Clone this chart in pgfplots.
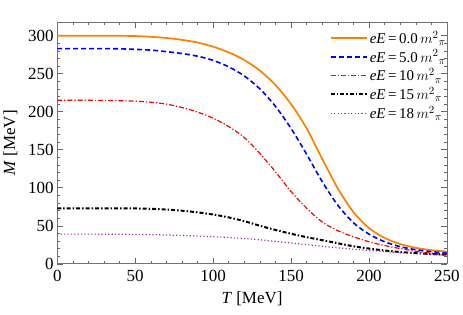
\documentclass[border=0pt]{standalone}
\usepackage{pgfplots}
\pgfplotsset{compat=1.18}
\usepackage{fontspec}
\setmainfont{Liberation Serif}
\definecolor{mOrange}{rgb}{1,0.5,0}
\definecolor{mPurple}{rgb}{0.6,0.2,0.65}
\newcommand{\lab}[1]{\textit{eE}\,=\,#1\,$m^{2}{}_{\pi}$}
\begin{document}
\begin{tikzpicture}
\begin{axis}[
  scale only axis,
  width=390pt, height=242pt,
  xmin=0, xmax=250, ymin=0, ymax=318,
  xtick={0,50,...,250}, ytick={0,50,...,300},
  minor x tick num=4, minor y tick num=4,
  major tick length=6pt, minor tick length=3pt,
  tick style={color=black!60, line width=0.5pt},
  axis line style={color=black!55, line width=0.6pt},
  tick align=inside,
  /pgf/number format/assume math mode=true,
  ticklabel style={font=\fontsize{17}{20}\selectfont},
  xticklabel style={yshift=-3pt},
  label style={font=\fontsize{17}{20}\selectfont},
  xlabel={\textit{T} [MeV]}, ylabel={\textit{M} [MeV]},
  xlabel style={yshift=-3pt},
  ylabel style={yshift=4pt},
  legend style={draw=none, fill=none, at={(1,1)}, anchor=north east,
    xshift=4pt, yshift=-5pt,
    font=\fontsize{15}{17}\selectfont, row sep=1pt,
    legend cell align=left},
  legend image code/.code={\draw[#1] (0pt,0pt) -- (36pt,0pt);},
]
\addplot[mOrange, line width=1.7pt, smooth] coordinates {
(0,300) (10,300) (20,300) (30,300) (40,299.8) (50,299.5) (60,298.5) (70,297)
(80,294.5) (90,291) (100,285.5) (110,278) (120,268) (130,254) (140,235)
(150,210) (160,178) (170,138) (180,99) (190,68) (200,47) (210,34) (220,26)
(230,21) (240,18) (250,16)};
\addlegendentry{\lab{0.0}}
\addplot[blue, line width=1.6pt, dash pattern=on 5pt off 3pt, smooth] coordinates {
(0,283) (10,283) (20,283) (30,283) (40,282.7) (50,282) (60,281) (70,279)
(80,276.5) (90,273) (100,267.5) (110,259) (120,247) (130,230) (140,207)
(150,178) (160,144) (170,108) (180,77) (190,54) (200,39) (210,29) (220,22.5)
(230,18.5) (240,16) (250,14)};
\addlegendentry{\lab{5.0}}
\addplot[red, line width=1.2pt, dash pattern=on 5pt off 2pt on 1.2pt off 2pt, smooth] coordinates {
(0,215) (10,215) (20,215) (30,214.8) (40,214.5) (50,213.8) (60,212.5) (70,210)
(80,205.5) (90,199.5) (100,191.5) (110,180.5) (120,166) (130,145) (140,121)
(150,95) (160,73) (170,55) (180,43.5) (190,35.5) (200,29) (210,24) (220,20)
(230,16.5) (240,14) (250,12)};
\addlegendentry{\lab{10}}
\addplot[black, line width=2pt, dash pattern=on 4pt off 2pt on 1.5pt off 2pt, smooth] coordinates {
(0,73) (20,73) (40,73) (50,72.8) (60,72.3) (70,71.3) (80,69.8) (90,67.6)
(100,64.8) (110,61) (120,56) (130,50) (140,44.5) (150,39.5) (160,35) (170,31)
(180,27) (190,23) (200,20) (210,17.5) (220,15.5) (230,14) (240,12.8) (250,12)};
\addlegendentry{\lab{15}}
\addplot[mPurple, line width=1.2pt, dash pattern=on 1.2pt off 2.2pt, smooth] coordinates {
(0,39) (20,39) (40,38.8) (60,38.3) (80,37.3) (100,35.6) (110,34.5) (120,33.2)
(130,31.5) (140,29.5) (150,27.3) (160,25.2) (170,23) (180,21) (190,19.2)
(200,17.5) (210,16) (220,14.6) (230,13.4) (240,12.2) (250,11.2)};
\addlegendentry{\lab{18}}
\end{axis}
\path (current axis.south west) ++(-57pt,-51pt) coordinate (bl);
\path (current axis.north east) ++(16pt,22pt) coordinate (tr);
\path (bl) rectangle (tr);
\end{tikzpicture}
\end{document}
